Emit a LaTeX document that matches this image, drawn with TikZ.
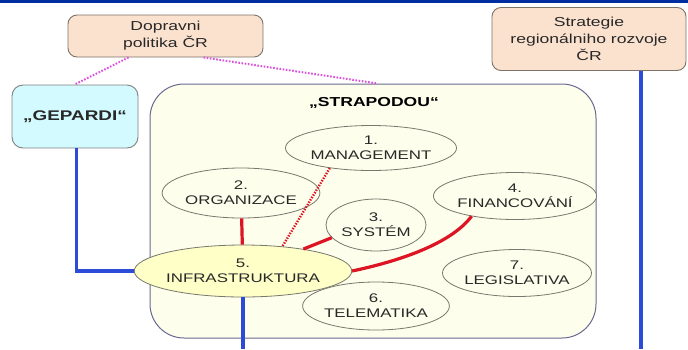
\documentclass[tikz,border=0pt]{standalone}
\usepackage{fontspec}
\setmainfont{Liberation Sans}[FakeStretch=1.35]
\usetikzlibrary{shapes.geometric}
\definecolor{peach}{RGB}{251,226,207}
\definecolor{skyfill}{RGB}{210,250,255}
\definecolor{cream}{RGB}{254,254,236}
\definecolor{infrafill}{RGB}{255,255,200}
\definecolor{boxline}{RGB}{125,115,105}
\definecolor{frameline}{RGB}{105,105,145}
\definecolor{elline}{RGB}{120,120,110}
\definecolor{txt}{RGB}{40,40,40}
\definecolor{linkred}{RGB}{220,20,35}
\definecolor{linkblue}{RGB}{45,75,215}
\definecolor{linkpink}{RGB}{220,80,220}
\definecolor{topblue}{RGB}{0,45,160}

\begin{document}
\begin{tikzpicture}[x=1pt,y=-1pt,
  kasten/.style={draw=boxline, line width=0.9pt, rounded corners=9pt, align=center,
    inner sep=0pt, text=txt, font=\fontsize{13}{17}\selectfont},
  elli/.style={ellipse, draw=elline, fill=cream, line width=0.8pt, align=center,
    inner sep=0pt, text=txt, font=\fontsize{12.5}{15}\selectfont},
  redlink/.style={draw=linkred, line width=3.2pt},
  bluelink/.style={draw=linkblue, line width=3.4pt},
  pinklink/.style={draw=linkpink, line width=2pt, dash pattern=on 1.6pt off 1.6pt}]
\useasboundingbox (0,0) rectangle (688,349);
\draw [topblue, line width=3pt] (0,1.5) -- (688,1.5);

\node (dop) [kasten, fill=peach, minimum width=195pt, minimum height=42pt] at (165.5,36) {Dopravni\\politika ČR};
\node (strat) [kasten, fill=peach, minimum width=194pt, minimum height=63pt] at (589,39) {Strategie\\regionálniho rozvoje\\ČR};
\node (gep) [kasten, fill=skyfill, draw=gray, rounded corners=11pt, minimum width=126pt, minimum height=63pt,
  font=\fontsize{14}{17}\selectfont\bfseries] at (75,116.5) {„GEPARDI“};

\node (strap) [draw=frameline, fill=cream, line width=1pt, rounded corners=34pt, minimum width=446pt, minimum height=254pt] at (373,211) {};
\node (title) [text=black, font=\fontsize{13}{16}\selectfont\bfseries] at (374,103) {„STRAPODOU“};

\node (mgmt) [elli, minimum width=151pt, minimum height=45pt] at (371,148) {1.\\MANAGEMENT};
\node (org) [elli, minimum width=126pt, minimum height=50pt] at (241,193) {2.\\ORGANIZACE};
\node (sys) [elli, minimum width=100pt, minimum height=52pt] at (376,225) {3.\\SYSTÉM};
\node (fin) [elli, minimum width=137pt, minimum height=47pt] at (515,196) {4.\\FINANCOVÁNÍ};
\node (infra) [elli, fill=infrafill, minimum width=174pt, minimum height=52pt] at (243,271) {5.\\INFRASTRUKTURA};
\node (tele) [elli, minimum width=138pt, minimum height=48pt] at (376,306) {6.\\TELEMATIKA};
\node (legis) [elli, minimum width=143pt, minimum height=47pt] at (517,273) {7.\\LEGISLATIVA};

\coordinate (infraend) at (243,349);
\coordinate (stratend) at (641,349);

\draw [pinklink] ([xshift=61pt]dop.south west) -- ([xshift=63pt]gep.north west);
\draw [pinklink] ([xshift=136pt]dop.south west) -- ([xshift=228pt]strap.north west);

\draw [redlink, line width=2.4pt, dash pattern=on 1.4pt off 1.4pt] (mgmt.206) -- (infra.32);
\draw [redlink] (org) -- (infra);
\draw [redlink] (sys.196) -- (infra.20);
\draw [redlink] (infra.east) .. controls (395,262) and (450,245) .. (fin.205);

\draw [bluelink] ([xshift=65pt]gep.south west) |- (infra.west);
\draw [bluelink] (infra.south) -- (infraend);
\draw [bluelink] (stratend |- strat.south) -- (stratend);
\end{tikzpicture}
\end{document}
